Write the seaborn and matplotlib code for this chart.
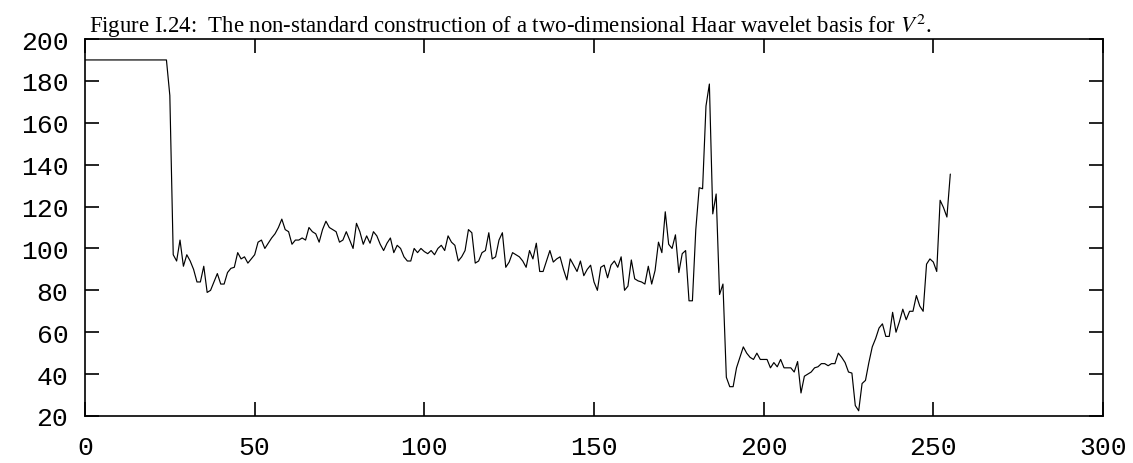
import numpy as np
import pandas as pd
import matplotlib
matplotlib.use("Agg")
import matplotlib.pyplot as plt
import seaborn as sns

title_text = "Figure I.24:  The non-standard construction of a two-dimensional Haar wavelet basis for $V^2$."

# series values (index 0..255)
vals_000_031 = [190, 190, 190, 190, 190, 190, 190, 190, 190, 190, 190, 190, 190, 190, 190, 190,
                190, 190, 190, 190, 190, 190, 190, 190, 190, 173, 97, 94, 104, 91.5, 97, 94]
vals_032_063 = [90, 84, 84, 91.5, 79, 80, 84, 88, 83, 83, 88.5, 90.5, 91, 98, 95, 96,
                93, 95, 97, 103, 104, 100, 102.5, 105, 107, 110, 114, 109, 108, 102, 104, 104]
vals_064_095 = [105, 104, 110, 108, 107, 103, 109, 113, 110, 109, 108, 103, 104, 108, 104, 100,
                112, 108, 102, 106, 102.5, 108, 106, 102, 99, 102.5, 105, 98, 101.5, 100, 96, 94]
vals_096_127 = [94, 100, 98, 100, 98.5, 97.5, 99, 97, 100, 101.5, 99, 106, 103, 101.5, 94, 96,
                99, 109, 107.5, 93, 94, 98, 99, 107.5, 95, 96, 104, 107.5, 91, 93.5, 98, 97]
vals_128_159 = [96, 94, 91, 99, 95, 102.5, 89, 89, 94, 99, 93.5, 95, 96, 90, 85, 95,
                92, 89, 94, 87, 90, 92, 84, 80, 91, 92, 86, 92, 94, 91, 96, 80]
vals_160_191 = [82, 94.5, 85.5, 84.5, 84, 83, 91.5, 83, 89.5, 103, 98, 117.5, 102, 100, 106.5, 88.5,
                97.5, 99, 75, 75, 109, 129, 128.5, 168, 178.5, 116.5, 126, 78, 83, 38.5, 34, 34]
vals_192_223 = [43, 48, 53, 50, 48, 47, 50, 47, 47, 47, 43, 45.5, 43.5, 47, 43, 43,
                43, 41, 46, 31, 39, 40, 41, 43, 43.5, 45, 45, 44, 45, 45, 50, 48]
vals_224_255 = [45.5, 41, 40.5, 25, 22.5, 35.5, 37, 45.5, 53, 57, 62, 64, 58, 58, 69.5, 60,
                65, 71, 66, 70, 70, 77.5, 72.5, 70, 92.5, 95, 93.5, 89, 123, 119.5, 115, 135.5]

x_ticks = [0, 50, 100, 150, 200, 250, 300]
y_ticks = [20, 40, 60, 80, 100, 120, 140, 160, 180, 200]

values = (vals_000_031 + vals_032_063 + vals_064_095 + vals_096_127 +
          vals_128_159 + vals_160_191 + vals_192_223 + vals_224_255)
df = pd.DataFrame({"x": np.arange(len(values)), "y": values})

sns.set_theme(style="white")
plt.rcParams["font.family"] = ["Liberation Mono", "DejaVu Sans"]
plt.rcParams["mathtext.fontset"] = "stix"

fig = plt.figure(figsize=(11.33, 4.64), dpi=100)
ax = fig.add_axes([85 / 1133, 1 - 417 / 464, (1103 - 85) / 1133, (417 - 40) / 464])

sns.lineplot(data=df, x="x", y="y", ax=ax, color="black", linewidth=0.85)

ax.set_xlim(0, 300)
ax.set_ylim(20, 200)
ax.set_xticks(x_ticks)
ax.set_yticks(y_ticks)
ax.set_xticklabels([str(t) for t in x_ticks])
ax.set_yticklabels([str(t) for t in y_ticks])
ax.set_xlabel("")
ax.set_ylabel("")
for s in ax.spines.values():
    s.set_visible(True)
    s.set_color("black")
    s.set_linewidth(1.2)
ax.tick_params(axis="both", which="major", direction="in", length=10, width=1.2,
               color="black", labelsize=19, labelcolor="black",
               top=True, right=True, bottom=True, left=True)
ax.tick_params(axis="x", pad=14)
ax.tick_params(axis="y", pad=12)

fig.text(89 / 1133, 1 - 33 / 464, title_text, family="Liberation Serif",
         fontsize=16.4, color="black", va="baseline", ha="left")

fig.savefig("out.png", dpi=100, facecolor="white")
